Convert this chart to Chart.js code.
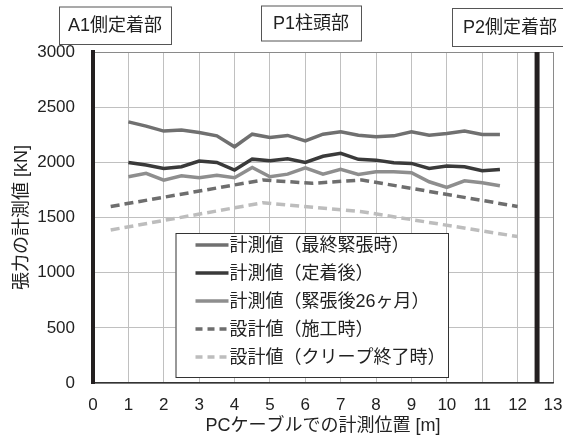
<!DOCTYPE html>
<html>
<head>
<meta charset="utf-8">
<script src="https://cdn.jsdelivr.net/npm/chart.js@4.4.1/dist/chart.umd.min.js"></script>
<style>
  html, body { margin: 0; padding: 0; background: #fff; }
  #wrap { width: 563px; height: 439px; }
</style>
</head>
<body>
<div id="wrap"><canvas id="c" width="563" height="439"></canvas></div>
<script>
  "use strict";

  // 計測位置 [m]
  const positions = [1, 1.5, 2, 2.5, 3, 3.5, 4, 4.5, 5, 5.5, 6, 6.5, 7, 7.5, 8, 8.5, 9, 9.5, 10, 10.5, 11, 11.5];
  const finalTension = [2367, 2328, 2283, 2292, 2271, 2240, 2141, 2255, 2225, 2244, 2195, 2255, 2276, 2246, 2231, 2240, 2276, 2246, 2262, 2283, 2253, 2253];
  const afterAnchor = [1999, 1975, 1945, 1960, 2011, 1999, 1930, 2029, 2014, 2032, 1999, 2055, 2081, 2027, 2020, 1996, 1990, 1945, 1966, 1960, 1923, 1936];
  const after26Months = [1869, 1900, 1839, 1878, 1860, 1882, 1860, 1954, 1869, 1893, 1951, 1892, 1936, 1891, 1915, 1915, 1906, 1824, 1773, 1833, 1815, 1788];

  // 設計値
  const designX = [0.5, 4.8, 6.2, 7.6, 12];
  const designConstruction = [1600, 1840, 1810, 1840, 1600];
  const creepX = [0.5, 4.8, 7.6, 12];
  const designCreepEnd = [1387, 1634, 1553, 1327];

  // P2側定着部の位置
  const p2AnchorX = 12.55;

  const seriesLabels = [
    "計測値（最終緊張時）",
    "計測値（定着後）",
    "計測値（緊張後26ヶ月）",
    "設計値（施工時）",
    "設計値（クリープ終了時）",
  ];
  const sectionLabels = ["A1側定着部", "P1柱頭部", "P2側定着部"];
  const xTitle = "PCケーブルでの計測位置 [m]";
  const yTitle = "張力の計測値 [kN]";

  const FONT = "'Liberation Sans', 'Noto Sans CJK JP', sans-serif";
  const colors = {
    final: "#707070",
    anchor: "#3a3a3a",
    months: "#8e8e8e",
    design: "#6e6e6e",
    creep: "#bdbdbd",
    grid: "#c0c0c0",
    frame: "#8a8a8a",
    black: "#231f20",
  };

  // 上部の区間ラベル枠 (px)
  const sectionBoxes = [
    { x: 59, y: 6.5, w: 112, h: 37.5 },
    { x: 261, y: 5.5, w: 100, h: 35 },
    { x: 452, y: 8, w: 130, h: 38 },
  ];
  const legendBox = { x: 175.5, y: 233, w: 272.5, h: 144, rowH: 28, sampleW: 33 };

  function xy(xs, ys) {
    return xs.map((x, i) => ({ x: x, y: ys[i] }));
  }

  const lineBase = { borderWidth: 3.5, pointRadius: 0, tension: 0, fill: false };

  const overlayPlugin = {
    id: "overlay",
    afterDraw(chart) {
      const ctx = chart.ctx;
      ctx.save();
      // 区間ラベル
      ctx.font = "18px " + FONT;
      ctx.textAlign = "center";
      ctx.textBaseline = "middle";
      sectionLabels.forEach((t, i) => {
        const b = sectionBoxes[i];
        ctx.fillStyle = "#fff";
        ctx.fillRect(b.x, b.y, b.w, b.h);
        ctx.strokeStyle = "#555";
        ctx.lineWidth = 1;
        ctx.strokeRect(b.x + 0.5, b.y + 0.5, b.w, b.h);
        ctx.fillStyle = "#222";
        const cx = i === 2 ? b.x + 58 : b.x + b.w / 2;
        ctx.fillText(t, cx, b.y + b.h / 2 + 1);
      });

      // 凡例
      const L = legendBox;
      ctx.fillStyle = "#fff";
      ctx.fillRect(L.x, L.y, L.w, L.h);
      ctx.strokeStyle = "#333";
      ctx.lineWidth = 1;
      ctx.strokeRect(L.x + 0.5, L.y + 0.5, L.w, L.h);
      ctx.font = "18px " + FONT;
      ctx.textAlign = "left";
      ctx.textBaseline = "middle";
      seriesLabels.forEach((t, i) => {
        const ds = chart.data.datasets[i];
        const y = L.y + 12 + i * L.rowH;
        const x0 = L.x + 20;
        ctx.beginPath();
        ctx.strokeStyle = ds.borderColor;
        ctx.lineWidth = 3.5;
        ctx.setLineDash(ds.borderDash && ds.borderDash.length ? [7, 5] : []);
        ctx.moveTo(x0, y);
        ctx.lineTo(x0 + L.sampleW, y);
        ctx.stroke();
        ctx.setLineDash([]);
        ctx.fillStyle = "#222";
        ctx.fillText(t, x0 + L.sampleW + 1, y + 1);
      });
      ctx.restore();
    },
  };

  new Chart(document.getElementById("c"), {
    type: "line",
    data: {
      datasets: [
        { ...lineBase, label: seriesLabels[0], data: xy(positions, finalTension), borderColor: colors.final },
        { ...lineBase, label: seriesLabels[1], data: xy(positions, afterAnchor), borderColor: colors.anchor },
        { ...lineBase, label: seriesLabels[2], data: xy(positions, after26Months), borderColor: colors.months },
        { ...lineBase, label: seriesLabels[3], data: xy(designX, designConstruction), borderColor: colors.design, borderDash: [9, 5] },
        { ...lineBase, label: seriesLabels[4], data: xy(creepX, designCreepEnd), borderColor: colors.creep, borderDash: [9, 5] },
        {
          ...lineBase,
          label: "P2",
          data: [{ x: p2AnchorX, y: 0 }, { x: p2AnchorX, y: 3000 }],
          borderColor: colors.black,
          borderWidth: 5,
          borderCapStyle: "butt",
        },
      ],
    },
    options: {
      responsive: false,
      animation: false,
      devicePixelRatio: 1,
      layout: { padding: { top: 52, right: 0, bottom: 0, left: 0 } },
      plugins: { legend: { display: false }, tooltip: { enabled: false } },
      scales: {
        x: {
          type: "linear",
          min: 0,
          max: 13,
          ticks: { stepSize: 1, color: "#222", font: { family: FONT, size: 17 }, padding: 12, maxRotation: 0 },
          grid: {
            color: (c) => (c.tick && c.tick.value === 13 ? colors.frame : colors.grid),
            drawTicks: false,
          },
          border: { color: "#333", width: 1.5 },
          title: { display: true, text: xTitle, color: "#222", font: { family: FONT, size: 18 }, padding: { top: 0, bottom: 2 } },
          afterFit(s) {
            s.height = 56;
            s.paddingLeft = 0;
            s.paddingRight = 10;
          },
        },
        y: {
          min: 0,
          max: 3000,
          ticks: {
            stepSize: 500,
            color: "#222",
            font: { family: FONT, size: 17 },
            padding: 18,
            callback(v) { return String(v); },
          },
          grid: {
            color: (c) => (c.tick && c.tick.value === 3000 ? colors.frame : colors.grid),
            drawTicks: false,
          },
          border: { color: colors.black, width: 4 },
          title: { display: true, text: yTitle, color: "#222", font: { family: FONT, size: 18 }, padding: { top: 11, bottom: 0 } },
          afterFit(s) {
            s.width = 93;
            s.paddingTop = 0;
            s.paddingBottom = 0;
          },
        },
      },
    },
    plugins: [overlayPlugin],
  });
</script>
</body>
</html>
